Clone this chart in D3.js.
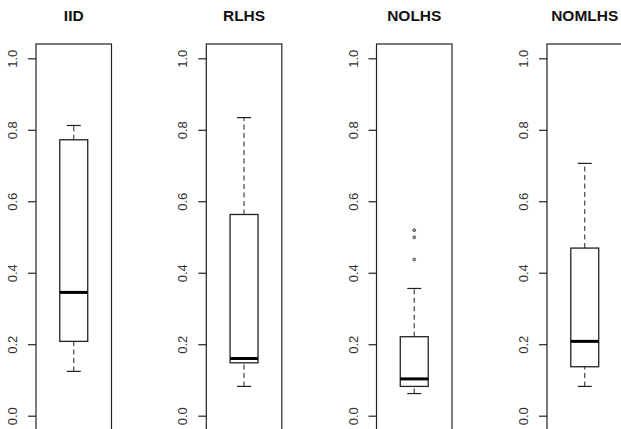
<!DOCTYPE html>
<html>
<head>
<meta charset="utf-8">
<script src="https://cdn.jsdelivr.net/npm/d3@7"></script>
<style>
  body { margin: 0; background: #fff; }
  svg { display: block; font-family: "Liberation Sans", Arial, sans-serif; }
</style>
</head>
<body>
<div id="chart"></div>
<script>
// one boxplot per sampling design
var methods = ["IID", "RLHS", "NOLHS", "NOMLHS"];
var whiskerLow = [0.124, 0.082, 0.062, 0.082];
var q1 = [0.208, 0.148, 0.082, 0.137];
var medians = [0.345, 0.160, 0.103, 0.208];
var q3 = [0.772, 0.563, 0.221, 0.469];
var whiskerHigh = [0.812, 0.834, 0.356, 0.706];
var outliers = [[], [], [0.437, 0.499, 0.519], []];
var yTicks = [0, 0.2, 0.4, 0.6, 0.8, 1.0];

var width = 621, height = 429;
var panelLeft = [36, 206.3, 376.5, 547];
var panelWidth = 75.5;

var svg = d3.select("#chart").append("svg")
    .attr("width", width)
    .attr("height", height);

// R style: ylim [0,1] padded by 4% each side
var y = d3.scaleLinear().domain([-0.04, 1.04]).range([430, 44]);

methods.forEach(function (name, i) {
    var x = d3.scaleLinear().domain([0.46, 1.54]).range([panelLeft[i], panelLeft[i] + panelWidth]);
    var g = svg.append("g").attr("class", "panel");

    // title
    g.append("text")
        .attr("x", x(1))
        .attr("y", 21)
        .attr("text-anchor", "middle")
        .style("font-size", "15.5px")
        .style("font-weight", "bold")
        .style("fill", "#111")
        .text(name);

    // frame
    g.append("rect")
        .attr("x", x(0.46))
        .attr("y", y(1.04))
        .attr("width", x(1.54) - x(0.46))
        .attr("height", y(-0.04) - y(1.04))
        .style("fill", "none")
        .style("stroke", "#222")
        .style("stroke-width", 1.2);

    // y axis, ticks on the left
    var axis = g.append("g")
        .attr("transform", "translate(" + x(0.46) + ",0)")
        .call(d3.axisLeft(y).tickValues(yTicks).tickSize(8).tickFormat(d3.format(".1f")));
    axis.select(".domain").remove();
    axis.selectAll(".tick line").style("stroke", "#222").style("stroke-width", 1.2);
    axis.selectAll(".tick text").remove();
    axis.selectAll(".tick").append("text")
        .attr("transform", "translate(-19,0) rotate(-90)")
        .attr("text-anchor", "middle")
        .style("font-size", "13px")
        .style("fill", "#333")
        .text(function (d) { return d3.format(".1f")(d); });

    // whiskers
    [[whiskerLow[i], q1[i]], [q3[i], whiskerHigh[i]]].forEach(function (seg) {
        g.append("line")
            .attr("x1", x(1)).attr("x2", x(1))
            .attr("y1", y(seg[0])).attr("y2", y(seg[1]))
            .style("stroke", "#333")
            .style("stroke-width", 1.1)
            .style("stroke-dasharray", "5,3.5");
    });
    [whiskerLow[i], whiskerHigh[i]].forEach(function (v) {
        g.append("line")
            .attr("x1", x(0.9)).attr("x2", x(1.1))
            .attr("y1", y(v)).attr("y2", y(v))
            .style("stroke", "#222")
            .style("stroke-width", 1.2);
    });

    // box
    g.append("rect")
        .attr("x", x(0.8))
        .attr("y", y(q3[i]))
        .attr("width", x(1.2) - x(0.8))
        .attr("height", y(q1[i]) - y(q3[i]))
        .style("fill", "#fff")
        .style("stroke", "#222")
        .style("stroke-width", 1.3);

    // median
    g.append("line")
        .attr("x1", x(0.8)).attr("x2", x(1.2))
        .attr("y1", y(medians[i])).attr("y2", y(medians[i]))
        .style("stroke", "#000")
        .style("stroke-width", 3);

    // outliers
    g.selectAll("circle")
        .data(outliers[i])
        .enter()
        .append("circle")
        .attr("cx", x(1))
        .attr("cy", function (d) { return y(d); })
        .attr("r", 1.4)
        .style("fill", "#bbb")
        .style("stroke", "#444")
        .style("stroke-width", 1);
});
</script>
</body>
</html>
